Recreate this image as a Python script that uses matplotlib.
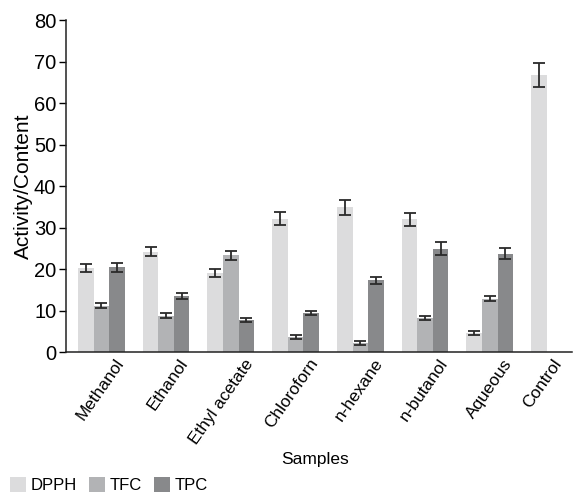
import matplotlib
matplotlib.use("Agg")
import matplotlib.pyplot as plt
import numpy as np

plt.rcParams['font.family'] = ['Liberation Sans', 'DejaVu Sans']

samples = ["Methanol", "Ethanol", "Ethyl acetate", "Chloroforn", "n-hexane",
           "n-butanol", "Aqueous", "Control"]

# mean values and error bars per sample (Control has DPPH only)
dpph = [20.2, 24.2, 19.0, 32.1, 34.9, 32.0, 4.6, 66.8]
dpph_err = [1.0, 1.1, 0.95, 1.6, 1.8, 1.6, 0.5, 2.9]
tfc = [11.2, 8.8, 23.3, 3.6, 2.2, 8.2, 12.8]
tfc_err = [0.7, 0.5, 1.1, 0.5, 0.5, 0.5, 0.6]
tpc = [20.4, 13.5, 7.8, 9.5, 17.3, 24.9, 23.7]
tpc_err = [1.05, 0.7, 0.5, 0.5, 0.8, 1.5, 1.3]

colors = ["#dcdcdd", "#b2b3b5", "#88898b"]

fig = plt.figure(figsize=(5.77, 4.94), dpi=100)
ax = fig.add_axes([0.1144, 0.2874, 0.877, 0.672])

x = np.arange(len(samples))
w = 0.24
err_kw = dict(ecolor="#2a2a2a", elinewidth=1.3, capsize=4.5, capthick=1.3)

ax.bar(x - w, dpph, w, yerr=dpph_err, color=colors[0], label="DPPH", error_kw=err_kw)
ax.bar(x[:7], tfc, w, yerr=tfc_err, color=colors[1], label="TFC", error_kw=err_kw)
ax.bar(x[:7] + w, tpc, w, yerr=tpc_err, color=colors[2], label="TPC", error_kw=err_kw)

ax.set_xlim(-0.545, 7.27)
ax.set_ylim(0, 80)
ax.set_yticks(np.arange(0, 81, 10))
ax.tick_params(axis="y", direction="out", length=5, width=1, labelsize=14.5, pad=2)
ax.tick_params(axis="x", length=0, labelsize=12.4, pad=3)

# the control group has one bar, so its label sits under that bar
tick_pos = x + 0.2
tick_pos[-1] = x[-1] - w + 0.2
ax.set_xticks(tick_pos)
ax.set_xticklabels(samples, rotation=55, ha="right", rotation_mode="anchor")

for side in ["top", "right"]:
    ax.spines[side].set_visible(False)
for side in ["left", "bottom"]:
    ax.spines[side].set_linewidth(1.1)
    ax.spines[side].set_color("#222222")

ax.set_ylabel("Activity/Content", fontsize=15)
ax.yaxis.set_label_coords(-0.065, 0.5)
ax.set_xlabel("Samples", fontsize=12.5)
ax.xaxis.set_label_coords(0.492, -0.30)

fig.legend(loc="lower left", bbox_to_anchor=(0.012, -0.005), ncol=3, frameon=False,
           fontsize=12, handlelength=0.95, handleheight=1.05, handletextpad=0.3,
           columnspacing=0.7, borderaxespad=0.0, borderpad=0.2)

fig.savefig("out.png", dpi=100)
